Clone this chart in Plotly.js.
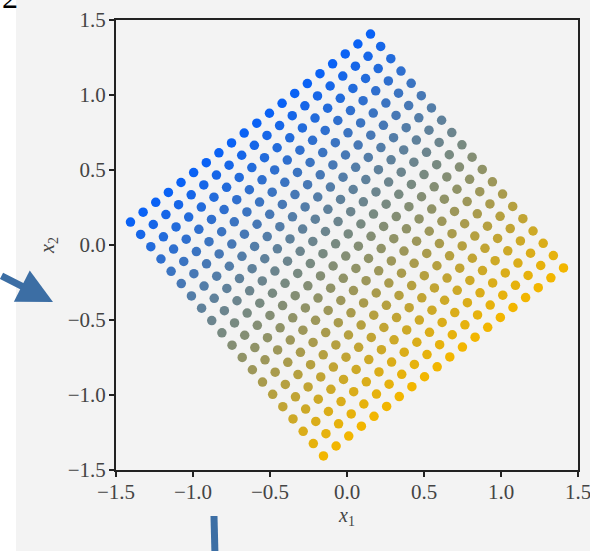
<!DOCTYPE html>
<html>
<head>
<meta charset="utf-8">
<script src="https://cdn.plot.ly/plotly-3.0.1.min.js"></script>
<style>
  html, body { margin: 0; padding: 0; background: #ffffff; }
  #chart { width: 590px; height: 551px; }
</style>
</head>
<body>
<div id="chart"></div>
<script>
// Grid coordinates (before rotation): 20 x 20 regular grid on [-1, 1]
const gridU = [-1, -0.8947, -0.7895, -0.6842, -0.5789, -0.4737, -0.3684, -0.2632, -0.1579, -0.0526,
               0.0526, 0.1579, 0.2632, 0.3684, 0.4737, 0.5789, 0.6842, 0.7895, 0.8947, 1];
const gridV = [-1, -0.8947, -0.7895, -0.6842, -0.5789, -0.4737, -0.3684, -0.2632, -0.1579, -0.0526,
               0.0526, 0.1579, 0.2632, 0.3684, 0.4737, 0.5789, 0.6842, 0.7895, 0.8947, 1];
// Rotation of the grid (degrees)
const rotationDeg = 38.8;
// Axis ticks
const tickValues = [-1.5, -1.0, -0.5, 0.0, 0.5, 1.0, 1.5];
const tickLabels = ["\u22121.5", "\u22121.0", "\u22120.5", "0.0", "0.5", "1.0", "1.5"];

const th = rotationDeg * Math.PI / 180;
const xs = [], ys = [], cs = [];
for (const v of gridV) {
  for (const u of gridU) {
    xs.push(u * Math.cos(th) - v * Math.sin(th));
    ys.push(u * Math.sin(th) + v * Math.cos(th));
    cs.push(v);
  }
}

const serif = 'Liberation Serif, DejaVu Serif, serif';
const gray = '#f3f3f3';
const axisCommon = {
  range: [-1.5, 1.5],
  tickvals: tickValues,
  ticktext: tickLabels,
  showgrid: false,
  zeroline: false,
  showline: true,
  linecolor: '#222',
  linewidth: 2,
  mirror: true,
  ticks: 'outside',
  ticklen: 5,
  tickwidth: 1.5,
  tickcolor: '#222',
  ticklabeloverflow: 'allow',
  tickfont: { family: serif, size: 21, color: '#444' },
  fixedrange: true
};

const trace = {
  type: 'scatter',
  mode: 'markers',
  x: xs,
  y: ys,
  marker: {
    size: 9.5,
    color: cs,
    cmin: -1,
    cmax: 1,
    colorscale: [[0, '#f2b600'], [1, '#0a62f5']],
    line: { width: 0 }
  },
  hoverinfo: 'skip',
  showlegend: false
};

const layout = {
  width: 590,
  height: 551,
  margin: { l: 116, r: 12, t: 20, b: 81, pad: 0 },
  paper_bgcolor: '#ffffff',
  plot_bgcolor: gray,
  showlegend: false,
  xaxis: Object.assign({}, axisCommon, {
    ticklabelstandoff: -3,
    title: { text: '<i>x</i><sub>1</sub>', font: { family: serif, size: 20, color: '#444' }, standoff: 0 }
  }),
  yaxis: Object.assign({}, axisCommon, {
    ticklabelstandoff: -1,
    title: { text: '<i>x</i><sub>2</sub>', font: { family: serif, size: 20, color: '#444' }, standoff: 8 }
  }),
  shapes: [
    { type: 'rect', xref: 'paper', yref: 'paper', x0: -0.2165, x1: 1.03, y0: -0.19, y1: 1.05,
      fillcolor: gray, line: { width: 0 }, layer: 'below' },
    { type: 'line', xref: 'paper', yref: 'paper', x0: 0.2121, x1: 0.2143, y0: -0.1022, y1: -0.19,
      line: { color: '#3c6ea4', width: 7 } }
  ],
  annotations: [
    { xref: 'paper', yref: 'paper', x: -0.1364, y: 0.3733, text: '', showarrow: true,
      axref: 'pixel', ayref: 'pixel', ax: -53, ay: -27,
      arrowhead: 2, arrowsize: 1, arrowwidth: 7, arrowcolor: '#3c6ea4', standoff: 0 },
    { xref: 'paper', yref: 'paper', x: -0.2294, y: 1.05, xanchor: 'center', yanchor: 'middle',
      text: '2', showarrow: false, font: { family: serif, size: 32, color: '#000' } }
  ]
};

Plotly.newPlot('chart', [trace], layout, { displayModeBar: false, staticPlot: true });
</script>
</body>
</html>
